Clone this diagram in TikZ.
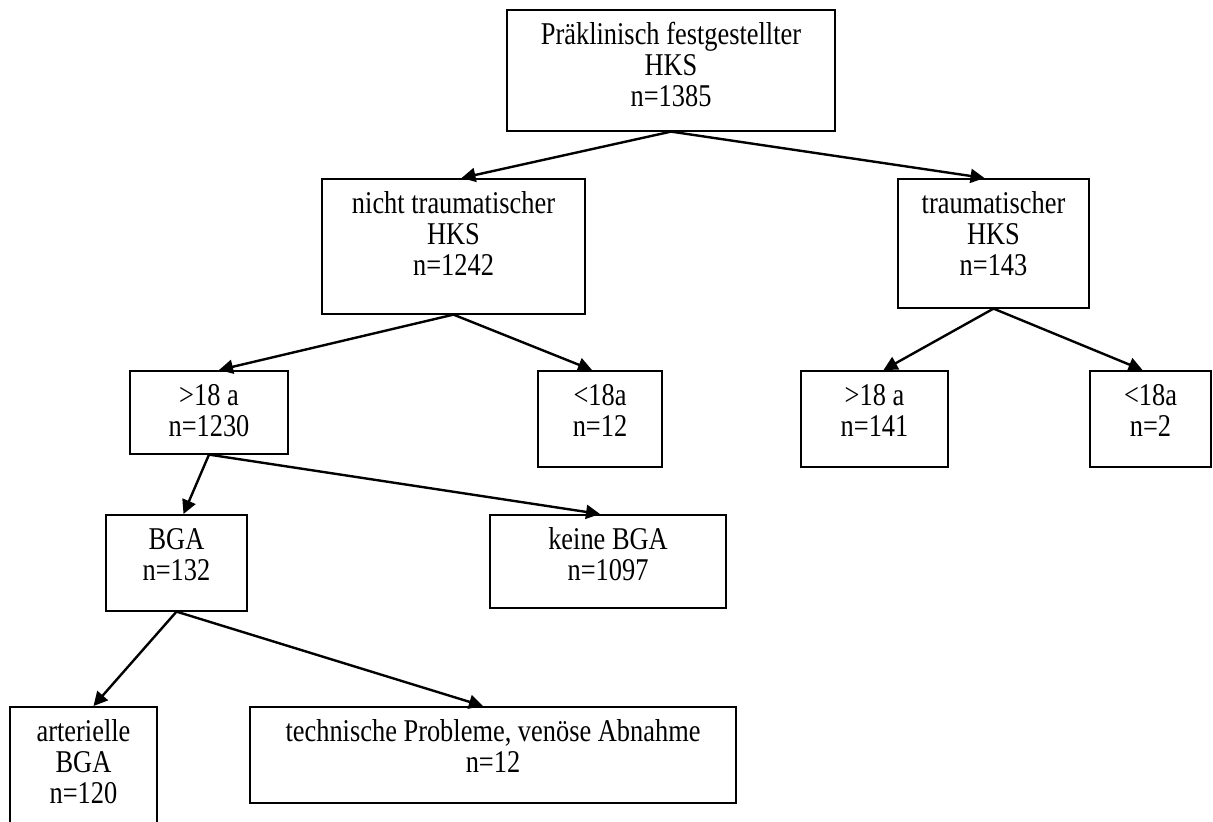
\documentclass[tikz,border=0pt]{standalone}
\usepackage{fontspec}
\setmainfont{Liberation Serif}
\usetikzlibrary{arrows.meta}
\newcommand{\boxlines}[1]{\scalebox{1}[1.2]{\begin{tabular}[t]{@{}c@{}}#1\end{tabular}}}

\begin{document}
\begin{tikzpicture}[
  x=0.5pt, y=-0.5pt,
  box/.style={draw, line width=0.8pt, anchor=north,
              inner xsep=2pt, inner ysep=8pt, text height=9.5pt,
              font=\fontsize{13.2}{12.8}\selectfont},
  arr/.style={-{Triangle[length=7pt, width=7pt]}, line width=1.2pt}
]
\clip (0,0) rectangle (1213,821);

% level 1
\node[box, minimum width=164pt, text depth=35pt] (total) at (671,9)
  {\boxlines{Präklinisch festgestellter\\HKS\\n=1385}};

% level 2
\node[box, minimum width=131.5pt, text depth=42pt] (nontrauma) at (453.5,178)
  {\boxlines{nicht traumatischer\\HKS\\n=1242}};
\node[box, minimum width=95.5pt, text depth=39pt] (trauma) at (993.5,178)
  {\boxlines{traumatischer\\HKS\\n=143}};

% level 3
\node[box, minimum width=79pt, text depth=16pt] (adultN) at (209,370) {\boxlines{>18 a\\n=1230}};
\node[box, minimum width=62pt, text depth=22.5pt] (childN) at (600,370) {\boxlines{<18a\\n=12}};
\node[box, minimum width=73.5pt, text depth=22.5pt] (adultT) at (874.5,370) {\boxlines{>18 a\\n=141}};
\node[box, minimum width=60.5pt, text depth=22.5pt] (childT) at (1150.5,370) {\boxlines{<18a\\n=2}};

% level 4
\node[box, minimum width=70.5pt, text depth=22.5pt] (bga) at (176.5,514) {\boxlines{BGA\\n=132}};
\node[box, minimum width=118pt, text depth=21pt] (nobga) at (608,514) {\boxlines{keine BGA\\n=1097}};

% level 5
\node[box, minimum width=73.5pt, text depth=37pt] (art) at (83.5,706) {\boxlines{arterielle\\BGA\\n=120}};
\node[box, minimum width=243pt, text depth=22.5pt] (tech) at (493,706)
  {\boxlines{technische Probleme, venöse Abnahme\\n=12}};

\draw[arr] (total.south) -- ([xshift=4pt]nontrauma.north);
\draw[arr] (total.south) -- ([xshift=-4.5pt]trauma.north);
\draw[arr] (nontrauma.south) -- ([xshift=5pt]adultN.north);
\draw[arr] (nontrauma.south) -- ([xshift=-4pt]childN.north);
\draw[arr] (trauma.south) -- ([xshift=4.5pt]adultT.north);
\draw[arr] (trauma.south) -- ([xshift=-4pt]childT.north);
\draw[arr] (adultN.south) -- ([xshift=3.5pt]bga.north);
\draw[arr] (adultN.south) -- ([xshift=-4pt]nobga.north);
\draw[arr] (bga.south) -- ([xshift=5pt]art.north);
\draw[arr] (bga.south) -- ([xshift=-5pt]tech.north);
\end{tikzpicture}
\end{document}
